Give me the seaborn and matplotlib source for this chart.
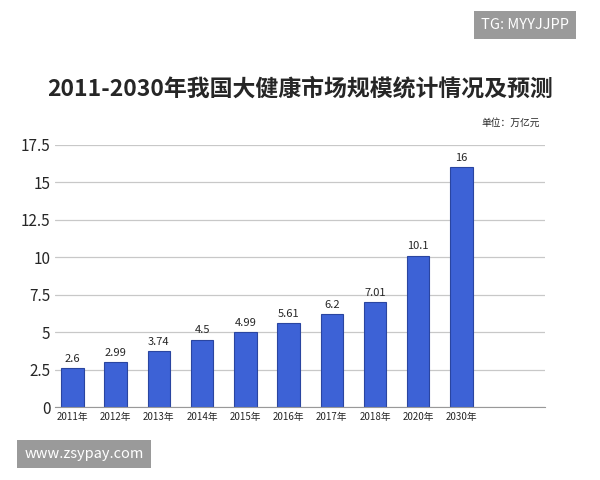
import matplotlib
matplotlib.use("Agg")
import matplotlib.pyplot as plt
import seaborn as sns
import pandas as pd

years = ["2011年","2012年","2013年","2014年","2015年","2016年","2017年","2018年","2020年","2030年"]
values = [2.6, 2.99, 3.74, 4.5, 4.99, 5.61, 6.2, 7.01, 10.1, 16]
labels = ["2.6","2.99","3.74","4.5","4.99","5.61","6.2","7.01","10.1","16"]
yticks = [0, 2.5, 5, 7.5, 10, 12.5, 15, 17.5]
ytick_labels = ["0","2.5","5","7.5","10","12.5","15","17.5"]

sns.set_style("white")
plt.rcParams['font.family'] = ['Noto Sans CJK SC', 'DejaVu Sans']

df = pd.DataFrame({"year": years, "value": values})
fig = plt.figure(figsize=(6, 4.8), dpi=100)
ax = fig.add_axes([0.092, 0.152, 0.816, 0.546])
sns.barplot(data=df, x="year", y="value", ax=ax, color="#3d62d6", width=0.52,
            edgecolor="#2a45a0", linewidth=0.8, saturation=1)
ax.set_xlim(-0.4, 10.93)
ax.set_ylim(0, 17.5)
ax.set_yticks(yticks)
ax.set_yticklabels(ytick_labels, fontsize=11)
ax.tick_params(axis='x', labelsize=7, length=0)
ax.tick_params(axis='y', length=0)
ax.yaxis.grid(True, color="#c8c8c8", linewidth=0.9)
ax.set_axisbelow(True)
ax.set_xlabel("")
ax.set_ylabel("")
for s in ["top", "right", "left"]:
    ax.spines[s].set_visible(False)
ax.spines["bottom"].set_color("#999999")
for i, (v, t) in enumerate(zip(values, labels)):
    ax.text(i, v + 0.3, t, ha="center", va="bottom", fontsize=8)

fig.text(0.5, 0.815, "2011-2030年我国大健康市场规模统计情况及预测", ha="center", va="center",
         fontsize=16.5, fontweight="bold")
fig.text(0.9, 0.745, "单位：万亿元", ha="right", va="center", fontsize=7)
fig.text(0.875, 0.948, "TG: MYYJJPP", ha="center", va="center", fontsize=10.5, color="white",
         bbox=dict(boxstyle="square,pad=0.5", fc="#9a9a9a", ec="none"))
fig.text(0.14, 0.054, "www.zsypay.com", ha="center", va="center", fontsize=10.5, color="white",
         bbox=dict(boxstyle="square,pad=0.5", fc="#9a9a9a", ec="none"))
fig.savefig("out.png", dpi=100)
